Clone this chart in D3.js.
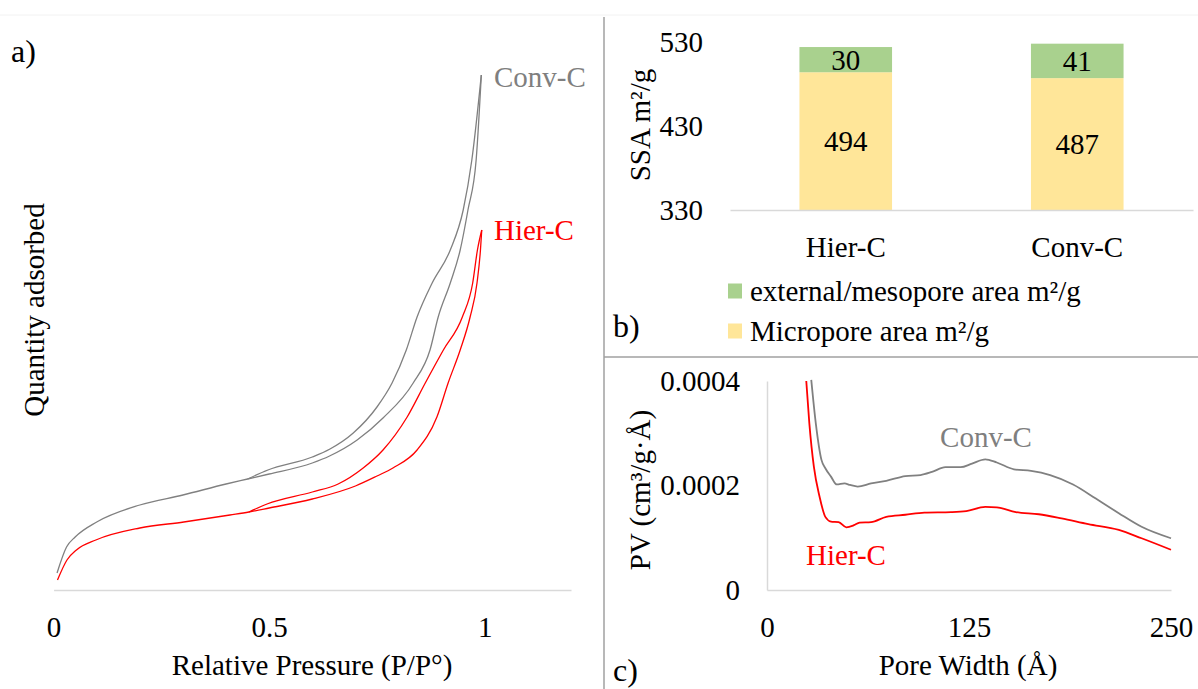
<!DOCTYPE html>
<html>
<head>
<meta charset="utf-8" />
<title>Isotherms, surface area and pore size</title>
<script src="https://d3js.org/d3.v7.min.js"></script>
<style>
  body { margin: 0; background: #fff; }
  svg { display: block; }
</style>
</head>
<body>
<svg id="fig" width="1198" height="689"></svg>
<script>
  // a) N2 isotherms: [P/P°, quantity adsorbed] (arbitrary units, no scale in figure)
  const convAds = [[0.008,17],[0.03,43],[0.05,53],[0.1,68],[0.2,85],[0.3,95],[0.4,106],[0.45,111],[0.5,116],[0.6,127],[0.64,134],[0.704,150],[0.764,172],[0.834,207],[0.873,240],[0.892,273],[0.92,307],[0.943,340],[0.961,380],[0.98,430],[0.992,515]];
  const convDes = [[0.45,111],[0.497,120],[0.6,133],[0.641,141],[0.695,157],[0.75,183],[0.785,207],[0.818,240],[0.843,273],[0.878,307],[0.92,340],[0.95,380],[0.97,430],[0.992,515]];
  const hierAds = [[0.009,10],[0.031,30],[0.053,40],[0.098,50],[0.2,62],[0.302,68],[0.409,75],[0.453,78],[0.5,82],[0.6,91],[0.7,104],[0.75,114],[0.787,122],[0.843,140],[0.889,173],[0.915,207],[0.943,240],[0.966,273],[0.982,307],[0.99,340],[0.993,360]];
  const hierDes = [[0.453,78],[0.495,86],[0.6,98],[0.66,106],[0.718,122],[0.764,140],[0.82,173],[0.862,207],[0.904,240],[0.948,273],[0.972,307],[0.983,340],[0.993,360]];
  const pressureTicks = [0, 0.5, 1];

  // b) specific surface area, m²/g
  const samples = ["Hier-C", "Conv-C"];
  const microArea = [494, 487];
  const extArea = [30, 41];
  const ssaTicks = [330, 430, 530];

  // c) pore size distribution: [pore width Å, PV cm³/g·Å]
  const psdConv = [[27.4,4.02e-4],[30.2,3.19e-4],[33.7,2.49e-4],[36.1,2.33e-4],[39.6,2.17e-4],[43.2,2.02e-4],[47.9,2.04e-4],[51.4,2.01e-4],[56.1,1.98e-4],[64.4,2.04e-4],[73.8,2.09e-4],[85.6,2.18e-4],[95,2.2e-4],[102.1,2.26e-4],[110.4,2.35e-4],[119.8,2.35e-4],[126.9,2.42e-4],[135.1,2.5e-4],[142.2,2.44e-4],[152.8,2.31e-4],[163.4,2.28e-4],[175.2,2.2e-4],[189.4,2.02e-4],[203.5,1.75e-4],[217.7,1.47e-4],[231.8,1.21e-4],[250,0.99e-4]];
  const psdHier = [[24.3,4.0e-4],[26.2,3.19e-4],[29,2.36e-4],[32.5,1.79e-4],[36.1,1.4e-4],[39.6,1.31e-4],[44.3,1.3e-4],[49.1,1.2e-4],[53.8,1.24e-4],[57.3,1.29e-4],[64.4,1.3e-4],[73.8,1.4e-4],[85.6,1.44e-4],[97.4,1.48e-4],[113.9,1.49e-4],[123.3,1.51e-4],[135.1,1.59e-4],[142.2,1.58e-4],[154,1.49e-4],[168.2,1.45e-4],[182.3,1.37e-4],[198.8,1.26e-4],[217.7,1.15e-4],[231.8,0.99e-4],[250,0.77e-4]];
  const widthTicks = [0, 125, 250];
  const pvTicks = [0, 0.0002, 0.0004];

  const GRAY = "#808080", RED = "#ff0000", AXIS = "#d9d9d9";
  const GREEN = "#a9d18e", YELLOW = "#ffe699";
  const FONT = '"Liberation Serif", "Times New Roman", Times, serif';
  const FS = 29;

  const svg = d3.select("#fig").attr("font-family", FONT);

  function label(x, y, txt, opts = {}) {
    return svg.append("text")
      .attr("x", x).attr("y", y)
      .attr("dy", opts.dy ?? "0.35em")
      .attr("text-anchor", opts.anchor || "start")
      .attr("font-family", FONT)
      .attr("font-size", opts.size || FS)
      .attr("fill", opts.fill || "#000")
      .attr("transform", opts.rotate ? `rotate(-90,${x},${y})` : null)
      .text(txt);
  }

  function styleAxis(g, keepDomain) {
    g.attr("font-family", FONT).attr("font-size", FS);
    g.selectAll(".tick text").attr("fill", "#000");
    g.selectAll(".tick line").remove();
    if (keepDomain) g.select(".domain").attr("stroke", AXIS).attr("stroke-width", 1.5);
    else g.select(".domain").remove();
  }

  // frame dividers
  svg.append("line").attr("x1", 0).attr("x2", 1198).attr("y1", 15).attr("y2", 15)
    .attr("stroke", "#f2f2f2").attr("stroke-width", 1);
  svg.append("line").attr("x1", 604).attr("x2", 604).attr("y1", 17).attr("y2", 689)
    .attr("stroke", "#a0a0a0").attr("stroke-width", 1.5);
  svg.append("line").attr("x1", 604).attr("x2", 1198).attr("y1", 357).attr("y2", 357)
    .attr("stroke", "#a0a0a0").attr("stroke-width", 1.5);

  // ---------- a) isotherms ----------
  const xP = d3.scaleLinear().domain([0, 1.2]).range([53.6, 571]);
  const yQ = d3.scaleLinear().domain([0, 540]).range([590, 50]);

  const gxa = svg.append("g").attr("transform", "translate(0,590)")
    .call(d3.axisBottom(xP).tickValues(pressureTicks).tickFormat(d3.format("")).tickSize(0).tickPadding(26).tickSizeOuter(0));
  styleAxis(gxa, true);

  const isoLine = d3.line().x(d => xP(d[0])).y(d => yQ(d[1])).curve(d3.curveMonotoneX);
  [[convAds, GRAY], [convDes, GRAY], [hierAds, RED], [hierDes, RED]].forEach(([d, c]) => {
    svg.append("path").datum(d).attr("d", isoLine)
      .attr("fill", "none").attr("stroke", c).attr("stroke-width", 1.3);
  });

  label(494, 77, "Conv-C", { fill: "#7f7f7f" });
  label(494, 230, "Hier-C", { fill: RED });
  label(312, 665, "Relative Pressure (P/P°)", { anchor: "middle" });
  label(34, 310, "Quantity adsorbed", { anchor: "middle", rotate: true });
  label(11, 62, "a)", { size: 32, dy: 0 });

  // ---------- b) surface area ----------
  const table = samples.map((s, i) => ({ sample: s, micro: microArea[i], ext: extArea[i] }));
  const xS = d3.scaleBand().domain(samples).range([730, 1193]).paddingInner(0.6).paddingOuter(0.3);
  const yA = d3.scaleLinear().domain([330, 530]).range([210, 42]);
  const layers = d3.stack().keys(["micro", "ext"])(table);
  // the value axis starts at 330, so the bottom segment is cut there
  layers[0].forEach(p => { p[0] = yA.domain()[0]; });
  const fills = { micro: YELLOW, ext: GREEN };

  layers.forEach(layer => {
    svg.append("g").selectAll("rect").data(layer).join("rect")
      .attr("x", d => xS(d.data.sample))
      .attr("width", xS.bandwidth())
      .attr("y", d => yA(d[1]))
      .attr("height", d => yA(d[0]) - yA(d[1]))
      .attr("fill", fills[layer.key]);
    svg.append("g").selectAll("text").data(layer).join("text")
      .attr("x", d => xS(d.data.sample) + xS.bandwidth() / 2)
      .attr("y", d => (yA(d[0]) + yA(d[1])) / 2)
      .attr("dy", "0.35em")
      .attr("text-anchor", "middle")
      .attr("font-family", FONT)
      .attr("font-size", FS)
      .text(d => d.data[layer.key]);
  });

  const gxb = svg.append("g").attr("transform", "translate(0,210)")
    .call(d3.axisBottom(xS).tickSize(0).tickPadding(26).tickSizeOuter(0));
  styleAxis(gxb, true);
  const gyb = svg.append("g").attr("transform", "translate(730,0)")
    .call(d3.axisLeft(yA).tickValues(ssaTicks).tickSize(0).tickPadding(27));
  styleAxis(gyb, false);

  label(640, 125, "SSA m²/g", { anchor: "middle", rotate: true });

  const legendItems = [["external/mesopore area m²/g", GREEN, 291], ["Micropore area m²/g", YELLOW, 331]];
  legendItems.forEach(([t, c, cy]) => {
    svg.append("rect").attr("x", 728).attr("y", cy - 7.5).attr("width", 14).attr("height", 15).attr("fill", c);
    label(750, cy, t);
  });
  label(613, 337, "b)", { size: 32, dy: 0 });

  // ---------- c) pore size distribution ----------
  const xW = d3.scaleLinear().domain([0, 250]).range([767, 1171]);
  const yV = d3.scaleLinear().domain([0, 0.0004]).range([590, 381]);

  const gxc = svg.append("g").attr("transform", "translate(0,590)")
    .call(d3.axisBottom(xW).tickValues(widthTicks).tickSize(0).tickPadding(26).tickSizeOuter(0));
  styleAxis(gxc, true);
  const gyc = svg.append("g").attr("transform", "translate(767,0)")
    .call(d3.axisLeft(yV).tickValues(pvTicks).tickFormat(d => d === 0 ? "0" : d3.format(".4f")(d)).tickSize(0).tickPadding(27).tickSizeOuter(0));
  styleAxis(gyc, true);

  const psdLine = d3.line().x(d => xW(d[0])).y(d => yV(d[1])).curve(d3.curveMonotoneX);
  [[psdConv, GRAY], [psdHier, RED]].forEach(([d, c]) => {
    svg.append("path").datum(d).attr("d", psdLine)
      .attr("fill", "none").attr("stroke", c).attr("stroke-width", 1.8);
  });

  label(986, 437, "Conv-C", { anchor: "middle", fill: "#7f7f7f" });
  label(846, 555, "Hier-C", { anchor: "middle", fill: RED });
  label(968, 665, "Pore Width (Å)", { anchor: "middle" });
  label(640, 490, "PV (cm³/g·Å)", { anchor: "middle", rotate: true });
  label(613, 681, "c)", { size: 32, dy: 0 });
</script>
</body>
</html>
